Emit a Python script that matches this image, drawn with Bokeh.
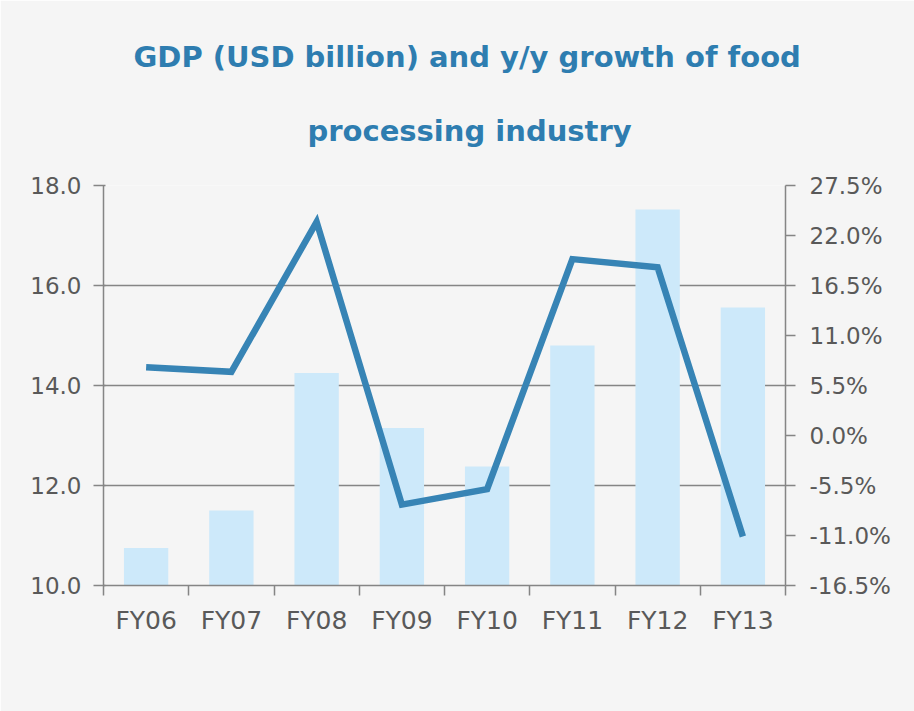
from bokeh.plotting import figure
from bokeh.models import (Range1d, LinearAxis, FixedTicker, PrintfTickFormatter,
                          Legend, LegendItem, Title)
from bokeh.embed import file_html
from bokeh.resources import INLINE

categories = ["FY06", "FY07", "FY08", "FY09", "FY10", "FY11", "FY12", "FY13"]
gdp = [10.75, 11.5, 14.25, 13.15, 12.38, 14.8, 17.52, 15.56]
growth = [7.5, 7.0, 23.5, -7.6, -5.9, 19.4, 18.5, -11.1]
left_ticks = [10, 12, 14, 16, 18]
right_ticks = [-16.5, -11.0, -5.5, 0.0, 5.5, 11.0, 16.5, 22.0, 27.5]
title_lines = ["GDP (USD billion) and y/y growth of food", "processing industry"]
series_names = ["GDP- Food processing industry", "Growth - right axis"]

FONT = "DejaVu Sans"
TXT = "#595959"
AX = "#858585"

xpos = [i + 0.5 for i in range(len(categories))]
src = dict(x=xpos, gdp=gdp, growth=growth)

p = figure(width=914, height=711, frame_width=682, frame_height=400,
           output_backend="svg", toolbar_location=None,
           x_range=Range1d(0, len(categories)), y_range=Range1d(left_ticks[0], left_ticks[-1]),
           min_border_left=103, min_border_right=129, min_border_top=185,
           min_border_bottom=126, title=None)
p.extra_y_ranges = {"pct": Range1d(right_ticks[0], right_ticks[-1])}
p.background_fill_color = "#f5f5f5"
p.border_fill_color = "#f5f5f5"
p.outline_line_color = None

xa = p.below[0]
ya = p.left[0]

# titles (line 2 first => closest to frame)
t2 = Title(text=title_lines[1], align="left", text_font=FONT,
           text_font_size="29px", text_font_style="bold", text_color="#2e7db0",
           standoff=76, offset=204)
t1 = Title(text=title_lines[0], align="left", text_font=FONT,
           text_font_size="29px", text_font_style="bold", text_color="#2e7db0",
           standoff=0, offset=30)
p.add_layout(t2, "above")
p.add_layout(t1, "above")

# grid
p.xgrid.visible = False
p.ygrid.ticker = FixedTicker(ticks=left_ticks)
p.ygrid.grid_line_color = AX
p.ygrid.grid_line_width = 1.5

bars = p.vbar(x="x", top="gdp", bottom=left_ticks[0], width=0.52, source=src,
              fill_color="#cde9fa", line_color=None)
line = p.line(x="x", y="growth", source=src, y_range_name="pct",
              line_color="#3784b5", line_width=6.5, line_join="miter")

# x axis
xa.ticker = FixedTicker(ticks=xpos, minor_ticks=list(range(len(categories) + 1)))
xa.major_label_overrides = {x: c for x, c in zip(xpos, categories)}
xa.major_tick_line_color = None
xa.major_tick_out = 10
xa.major_tick_in = 0
xa.minor_tick_line_color = AX
xa.minor_tick_line_width = 1.5
xa.minor_tick_out = 10
xa.minor_tick_in = 0
xa.major_label_standoff = 10

# left axis
ya.ticker = FixedTicker(ticks=left_ticks)
ya.formatter = PrintfTickFormatter(format="%.1f")
ya.major_tick_out = 10
ya.major_tick_in = 2
ya.minor_tick_line_color = None
ya.major_label_standoff = 12

# right axis
ra = LinearAxis(y_range_name="pct", ticker=FixedTicker(ticks=right_ticks),
                formatter=PrintfTickFormatter(format="%.1f%%"))
ra.major_tick_out = 10
ra.major_tick_in = 0
ra.minor_tick_line_color = None
ra.major_label_standoff = 14
p.add_layout(ra, "right")

for a in (xa, ya, ra):
    a.major_label_text_font = FONT
    a.major_label_text_font_size = "23px"
    a.major_label_text_color = TXT
    a.axis_line_color = AX
    a.axis_line_width = 1.5
    if a is not xa:
        a.major_tick_line_color = AX
        a.major_tick_line_width = 1.5
xa.major_label_text_font_size = "25px"

legend = Legend(items=[LegendItem(label=series_names[0], renderers=[bars]),
                       LegendItem(label=series_names[1], renderers=[line])],
                orientation="horizontal", location="top_right",
                glyph_width=42, glyph_height=26, label_standoff=2, spacing=12,
                padding=4, margin=26, background_fill_alpha=0, border_line_color=None,
                label_text_font=FONT, label_text_font_size="22px", label_text_color=TXT)
p.add_layout(legend, "below")

open("out.html", "w").write(file_html(p, INLINE))
